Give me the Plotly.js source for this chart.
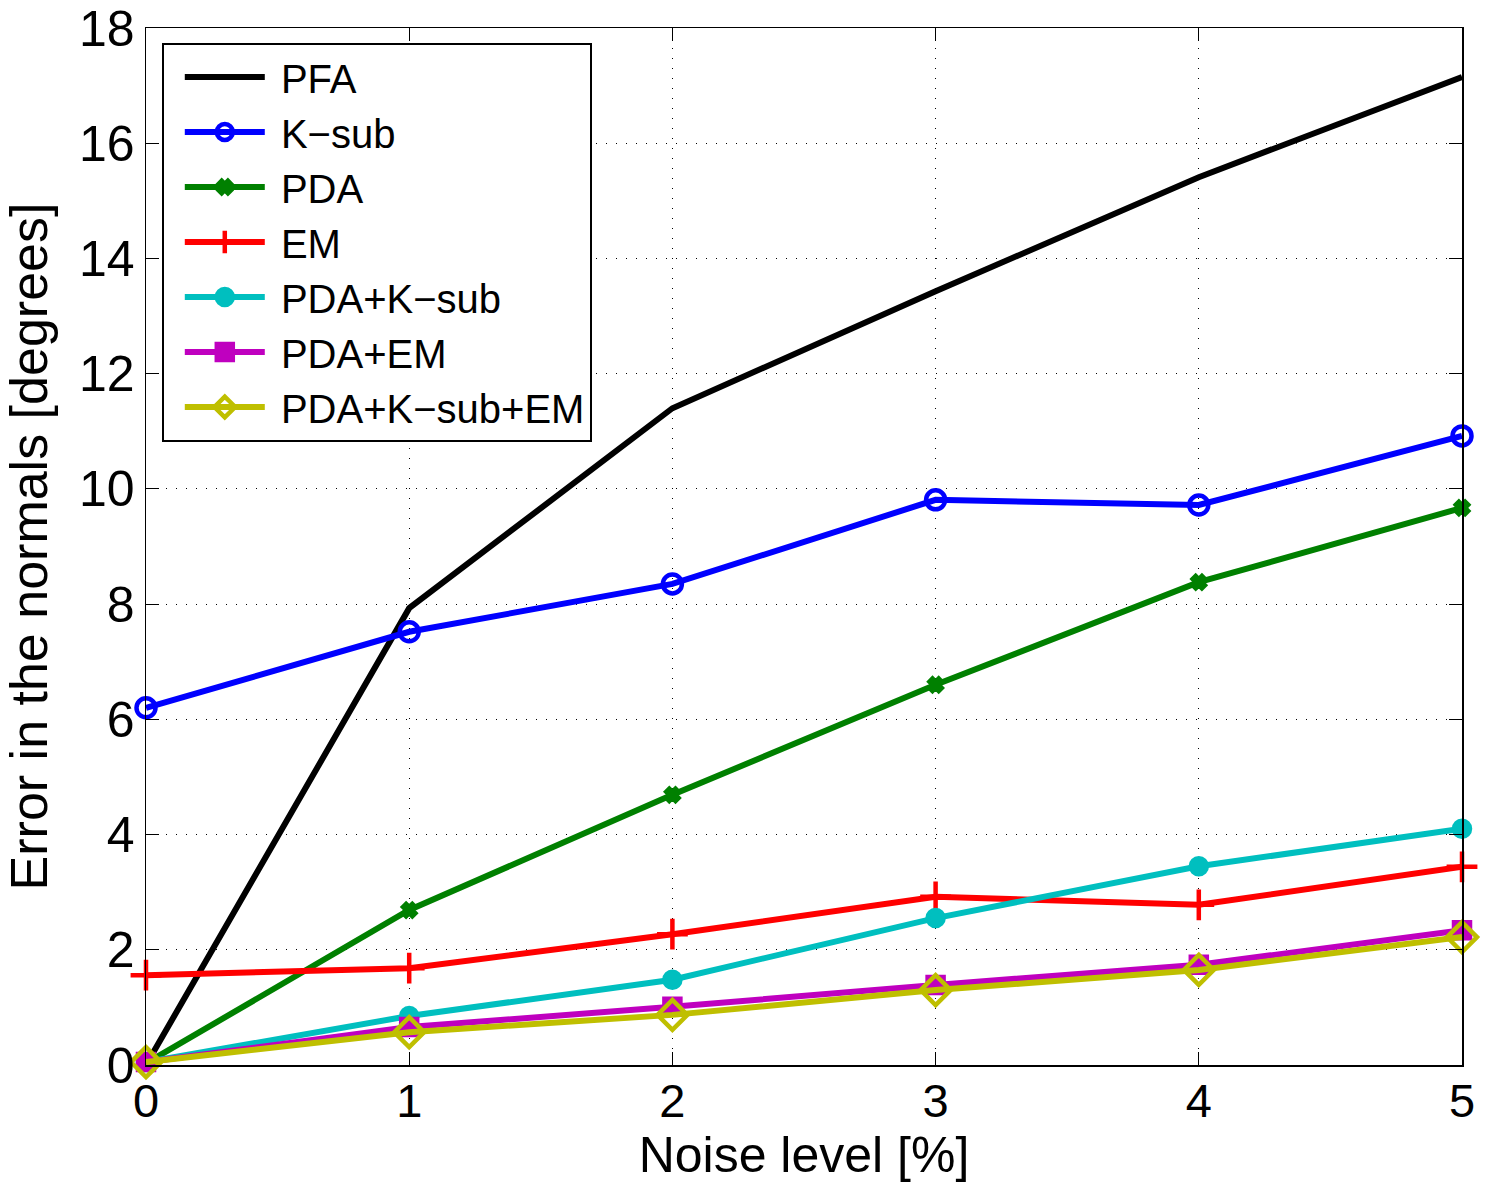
<!DOCTYPE html>
<html>
<head>
<meta charset="utf-8">
<script src="https://cdn.plot.ly/plotly-3.0.1.min.js"></script>
<style>html,body{margin:0;padding:0;background:#fff;}#chart{width:1487px;height:1184px;}</style>
</head>
<body>
<div id="chart"></div>
<script>
const noise = [0, 1, 2, 3, 4, 5];
const pfa = [0, 7.93, 11.40, 13.43, 15.41, 17.15];
const ksub = [6.20, 7.52, 8.35, 9.81, 9.72, 10.92];
const pda = [0.03, 2.69, 4.69, 6.60, 8.38, 9.67];
const em = [1.56, 1.68, 2.27, 2.92, 2.78, 3.44];
const pdaKsub = [0.05, 0.85, 1.48, 2.55, 3.45, 4.10];
const pdaEm = [0.05, 0.66, 1.01, 1.39, 1.74, 2.34];
const pdaKsubEm = [0.05, 0.57, 0.87, 1.30, 1.65, 2.22];
const yTicks = [0, 2, 4, 6, 8, 10, 12, 14, 16, 18];

const names = ['PFA', 'K\u2212sub', 'PDA', 'EM', 'PDA+K\u2212sub', 'PDA+EM', 'PDA+K\u2212sub+EM'];
const series = [pfa, ksub, pda, em, pdaKsub, pdaEm, pdaKsubEm];
const colors = ['#000000', '#0000ff', '#008000', '#ff0000', '#00bfbf', '#bf00bf', '#bfbf00'];
const symbols = [null, 'circle-open', 'x', 'cross-thin-open', 'circle', 'square', 'diamond-open'];
const sizes = [0, 19, 11, 22, 16, 16, 23];

const traces = series.map((s, i) => {
  const t = {
    x: noise, y: s, name: '\u00a0' + names[i], type: 'scatter',
    mode: symbols[i] ? 'lines+markers' : 'lines',
    line: {color: colors[i], width: 6},
    cliponaxis: false
  };
  if (symbols[i]) {
    t.marker = {symbol: symbols[i], size: sizes[i], color: colors[i], line: {color: colors[i], width: 4.5}};
  }
  return t;
});

const fontFam = '"Liberation Sans", Arial, Helvetica, sans-serif';
const layout = {
  width: 1487, height: 1184,
  margin: {l: 146, r: 25, t: 28, b: 119},
  paper_bgcolor: '#fff', plot_bgcolor: '#fff',
  font: {family: fontFam, size: 42, color: '#000'},
  showlegend: true,
  legend: {
    x: 0.012, y: 0.986, xanchor: 'left', yanchor: 'top',
    bgcolor: '#fff', bordercolor: '#000', borderwidth: 2,
    font: {family: fontFam, size: 40, color: '#000'},
    itemwidth: 80, tracegroupgap: 0, indentation: 16
  },
  xaxis: {
    range: [0, 5], tickvals: noise, ticktext: noise.map(String),
    ticks: 'inside', ticklen: 13, tickwidth: 1.2, tickcolor: '#000',
    showline: true, linecolor: '#000', linewidth: 1.5, mirror: 'ticks',
    showgrid: true, gridcolor: '#000', gridwidth: 1, griddash: '1px,9px',
    zeroline: false, automargin: false,
    tickfont: {size: 47}, ticklabelstandoff: -6,
    title: {text: 'Noise level [%]', font: {size: 50}, standoff: 8}
  },
  yaxis: {
    range: [0, 18], tickvals: yTicks, ticktext: yTicks.map(String),
    ticks: 'inside', ticklen: 13, tickwidth: 1.2, tickcolor: '#000',
    showline: true, linecolor: '#000', linewidth: 1.5, mirror: 'ticks',
    showgrid: true, gridcolor: '#000', gridwidth: 1, griddash: '1px,9px',
    zeroline: false, automargin: false,
    tickfont: {size: 50},
    title: {text: 'Error in the normals [degrees]', font: {size: 52}, standoff: 14}
  }
};

Plotly.newPlot('chart', traces, layout, {displayModeBar: false, staticPlot: true});
</script>
</body>
</html>
